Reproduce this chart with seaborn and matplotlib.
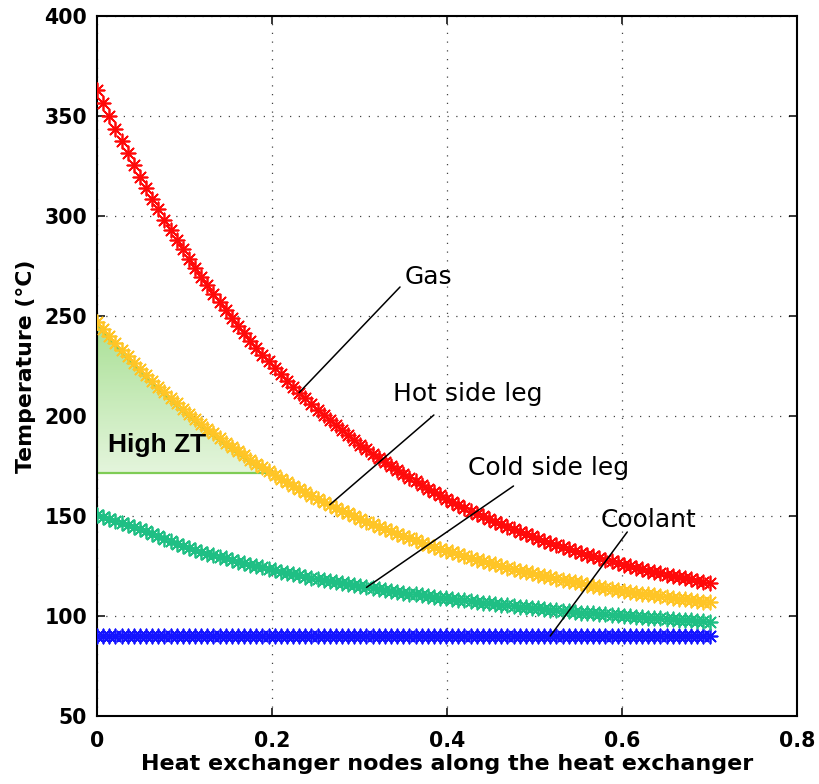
import numpy as np
import pandas as pd
import matplotlib
matplotlib.use("Agg")
import matplotlib.pyplot as plt
import seaborn as sns
from matplotlib.colors import LinearSegmentedColormap

# ---------------- data ----------------
n_nodes = 101
x_nodes = np.linspace(0.0, 0.7, n_nodes)

gas = [363.0, 356.3, 349.8, 343.5, 337.3, 331.3, 325.4, 319.7, 314.1, 308.6,
       303.3, 298.1, 293.1, 288.1, 283.3, 278.6, 274.1, 269.6, 265.3, 261.0,
       256.9, 252.9, 248.9, 245.1, 241.4, 237.7, 234.2, 230.7, 227.3, 224.0,
       220.8, 217.7, 214.6, 211.7, 208.8, 205.9, 203.2, 200.5, 197.9, 195.3,
       192.8, 190.4, 188.0, 185.7, 183.4, 181.2, 179.1, 177.0, 174.9, 173.0,
       171.0, 169.1, 167.3, 165.5, 163.7, 162.0, 160.4, 158.7, 157.1, 155.6,
       154.1, 152.6, 151.2, 149.8, 148.4, 147.1, 145.8, 144.5, 143.3, 142.1,
       140.9, 139.8, 138.7, 137.6, 136.5, 135.5, 134.5, 133.5, 132.5, 131.6,
       130.7, 129.8, 128.9, 128.1, 127.3, 126.5, 125.7, 124.9, 124.2, 123.5,
       122.7, 122.1, 121.4, 120.7, 120.1, 119.5, 118.9, 118.3, 117.7, 117.1,
       116.6]

hot_leg = [247.0, 243.4, 239.9, 236.5, 233.1, 229.9, 226.7, 223.5, 220.5, 217.5,
           214.6, 211.8, 209.0, 206.3, 203.6, 201.0, 198.5, 196.0, 193.6, 191.3,
           189.0, 186.7, 184.5, 182.4, 180.3, 178.2, 176.2, 174.3, 172.4, 170.5,
           168.7, 166.9, 165.2, 163.5, 161.8, 160.2, 158.6, 157.1, 155.6, 154.1,
           152.7, 151.3, 149.9, 148.5, 147.2, 146.0, 144.7, 143.5, 142.3, 141.1,
           140.0, 138.9, 137.8, 136.7, 135.7, 134.7, 133.7, 132.7, 131.8, 130.9,
           130.0, 129.1, 128.2, 127.4, 126.6, 125.8, 125.0, 124.2, 123.5, 122.7,
           122.0, 121.3, 120.7, 120.0, 119.3, 118.7, 118.1, 117.5, 116.9, 116.3,
           115.7, 115.2, 114.7, 114.1, 113.6, 113.1, 112.6, 112.2, 111.7, 111.2,
           110.8, 110.3, 109.9, 109.5, 109.1, 108.7, 108.3, 107.9, 107.6, 107.2,
           106.9]

cold_leg = [150.3, 149.4, 148.5, 147.6, 146.7, 145.7, 144.7, 143.6, 142.5, 141.2,
            139.9, 138.6, 137.3, 136.1, 135.0, 133.9, 133.0, 132.1, 131.2, 130.4,
            129.6, 128.8, 128.0, 127.2, 126.5, 125.7, 125.0, 124.3, 123.6, 122.9,
            122.2, 121.6, 121.0, 120.3, 119.7, 119.1, 118.6, 118.0, 117.4, 116.9,
            116.3, 115.8, 115.3, 114.8, 114.3, 113.8, 113.4, 112.9, 112.5, 112.0,
            111.6, 111.2, 110.8, 110.4, 110.0, 109.6, 109.2, 108.8, 108.5, 108.1,
            107.8, 107.4, 107.0, 106.7, 106.4, 106.0, 105.6, 105.4, 105.0, 104.7,
            104.4, 104.0, 103.8, 103.4, 103.1, 102.9, 102.5, 102.3, 102.1, 101.7,
            101.5, 101.3, 101.0, 100.8, 100.6, 100.3, 100.1, 99.9, 99.6, 99.4,
            99.2, 99.0, 98.8, 98.5, 98.3, 98.2, 97.9, 97.8, 97.6, 97.4,
            97.2]

coolant = [90.0] * n_nodes

series_names = ["Coolant", "Cold side leg", "Hot side leg", "Gas"]
series_values = [coolant, cold_leg, hot_leg, gas]
series_colors = ["#1414ff", "#1fbf84", "#ffc526", "#ff0a0a"]

high_zt_floor = 171.5          # lower edge of the "High ZT" region (deg C)
x_ticks = [0, 0.2, 0.4, 0.6, 0.8]
x_tick_labels = ["0", "0.2", "0.4", "0.6", "0.8"]
y_ticks = [50, 100, 150, 200, 250, 300, 350, 400]

# ---------------- figure ----------------
sns.set_style("ticks")
plt.rcParams["font.family"] = ["DejaVu Sans"]
plt.rcParams["text.color"] = "black"
plt.rcParams["axes.labelcolor"] = "black"

fig = plt.figure(figsize=(8.19, 7.84), dpi=100)
ax = fig.add_axes([97 / 819, 68 / 784, 700 / 819, 700 / 784])

# High ZT shaded region (gradient clipped to polygon under the hot-leg curve)
hot_arr = np.asarray(hot_leg)
upper = hot_arr - 1.5
fb = ax.fill_between(x_nodes, high_zt_floor, upper, where=upper >= high_zt_floor,
                     interpolate=True, facecolor="none", edgecolor="#7fcc55",
                     linewidth=1.6, zorder=2)
cmap = LinearSegmentedColormap.from_list("zt", ["#e4f5dc", "#a9e095"])
grad = np.linspace(0, 1, 256).reshape(-1, 1)
im = ax.imshow(grad, extent=[0, 0.2, high_zt_floor, 247], origin="lower",
               aspect="auto", cmap=cmap, zorder=1, interpolation="bilinear")
im.set_clip_path(fb.get_paths()[0], transform=ax.transData)

# series
for name, vals, col in zip(series_names, series_values, series_colors):
    df = pd.DataFrame({"x": x_nodes, "T": vals})
    sns.scatterplot(data=df, x="x", y="T", marker=(8, 2, 0), s=105,
                    color=col, linewidth=1.25, ax=ax, zorder=3, legend=False)

# annotations
def note(text, xt, yt, x0, y0, idx, vals):
    ax.text(xt, yt, text, ha="left", va="baseline", fontsize=18,
            family="DejaVu Sans", color="black", zorder=5)
    ax.plot([x0, x_nodes[idx]], [y0, vals[idx]], color="black", lw=1.1, zorder=4)

note("Gas", 0.352, 266.0, 0.3463, 264.5, 33, gas)
note("Hot side leg", 0.338, 207.5, 0.385, 200.5, 38, hot_leg)
note("Cold side leg", 0.424, 170.5, 0.476, 165.0, 44, cold_leg)
note("Coolant", 0.575, 144.5, 0.606, 142.0, 74, coolant)

ax.text(0.0126, 182.0, "High ZT", ha="left", va="baseline", fontsize=19,
        fontweight="bold", family="Liberation Sans", color="black", zorder=5)

# axes styling
ax.set_xlim(0, 0.8)
ax.set_ylim(50, 400)
ax.set_xticks(x_ticks)
ax.set_xticklabels(x_tick_labels)
ax.set_yticks(y_ticks)
ax.grid(True, linestyle=(0, (1, 6)), color="#444444", linewidth=0.9)
ax.set_axisbelow(True)
for sp in ax.spines.values():
    sp.set_visible(True)
    sp.set_linewidth(1.5)
    sp.set_color("black")
ax.tick_params(direction="in", length=6, width=1.1, top=True, right=True,
               labelsize=14.8, colors="black")
ax.tick_params(axis="x", pad=11)
ax.tick_params(axis="y", pad=7)
for lab in ax.get_xticklabels() + ax.get_yticklabels():
    lab.set_fontweight("bold")

ax.set_xlabel("Heat exchanger nodes along the heat exchanger", fontsize=16,
              fontweight="bold", labelpad=2, color="black")
ax.set_ylabel("Temperature (\u00b0C)", fontsize=15.8, fontweight="bold",
              labelpad=6, color="black")

fig.savefig("out.png", dpi=100)
